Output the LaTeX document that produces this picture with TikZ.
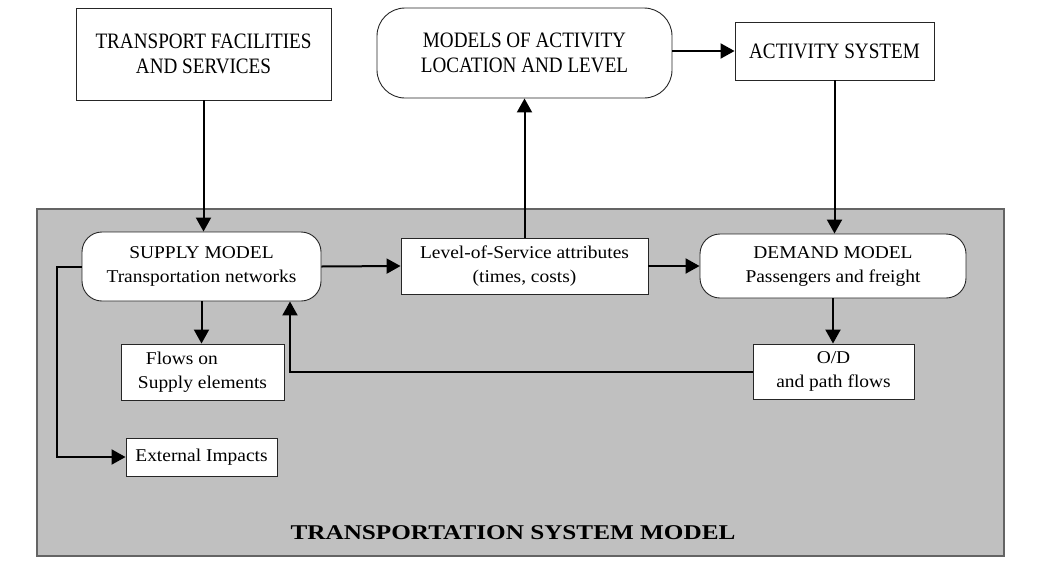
\documentclass[tikz,border=0pt]{standalone}
\usepackage{fontspec}
\setmainfont{Liberation Serif}
\newfontfamily\boxfont[FakeStretch=1.08]{Liberation Serif}
\newfontfamily\topfont[FakeStretch=0.87]{Liberation Serif}
\newfontfamily\titlefont[FakeStretch=1.2]{Liberation Serif}
\usepackage{tikz}
\usetikzlibrary{arrows.meta,
           positioning,
           calc}
\definecolor{fondgris}{RGB}{192,192,192}
\definecolor{bordgris}{RGB}{100,100,100}

\tikzset{
  boite/.style={draw=black!85,fill=white,line width=0.9pt,inner sep=0pt,align=center,
    font=\boxfont\fontsize{18}{24}\selectfont},
  boiteronde/.style={boite,rounded corners=20pt},
  boitehaut/.style={boite,font=\topfont\fontsize{22}{25}\selectfont},
  fleche/.style={line width=2pt,-{Triangle[length=14pt,width=15pt]}}
}

\begin{document}
\begin{tikzpicture}[x=1pt,y=-1pt]
\useasboundingbox (0,0) rectangle (1047,571);
\draw[fill=fondgris,draw=bordgris,line width=1.5pt](37,209)rectangle(1004,556);
\node[boitehaut,minimum width=255pt,minimum height=92pt] (tfs) at (203.5,54) {TRANSPORT FACILITIES\\AND SERVICES};
\node[boitehaut,rounded corners=28pt,minimum width=295pt,minimum height=90pt] (mal) at (524.5,53) {MODELS OF ACTIVITY\\LOCATION AND LEVEL};
\node[boitehaut,minimum width=199pt,minimum height=58pt] (act) at (834.5,51) {ACTIVITY SYSTEM};
\node[boiteronde,minimum width=239pt,minimum height=69pt] (sup) at (201.5,266.5) {SUPPLY MODEL\\Transportation networks};
\node[boite,minimum width=247pt,minimum height=56pt] (los) at (524.5,266) {Level-of-Service attributes\\(times, costs)};
\node[boiteronde,minimum width=266pt,minimum height=64pt] (dem) at (833,266) {DEMAND MODEL\\Passengers and freight};
\node[boite,align=left,minimum width=163pt,minimum height=56pt] (flo) at (202.5,372) {\hspace{8pt}Flows on\\Supply elements};
\node[boite,minimum width=161pt,minimum height=55pt] (odf) at (833.5,371.5) {O/D\\and path flows};
\node[boite,minimum width=151pt,minimum height=38pt] (ext) at (201.5,457) {External Impacts};
\node[font=\titlefont\bfseries\fontsize{21}{24}\selectfont] (titre) at (513,533) {TRANSPORTATION SYSTEM MODEL};
\draw[fleche] (tfs.south) -- (tfs.south |- sup.north);
\draw[fleche] (los.north) -- (los.north |- mal.south);
\draw[fleche] (mal.east |- act.west) -- (act.west);
\draw[fleche] (act.south) -- (act.south |- dem.north);
\draw[fleche] (sup.east) -- (los.west);
\draw[fleche] (los.east) -- (dem.west);
\draw[fleche] (sup.south) -- (sup.south |- flo.north);
\draw[fleche] (dem.south) -- (dem.south |- odf.north);
\draw[fleche] (odf.west) -| ([xshift=88.5pt]sup.south);
\draw[fleche] (sup.west) -- ++(-25,0) |- (ext.west);
\end{tikzpicture}
\end{document}
